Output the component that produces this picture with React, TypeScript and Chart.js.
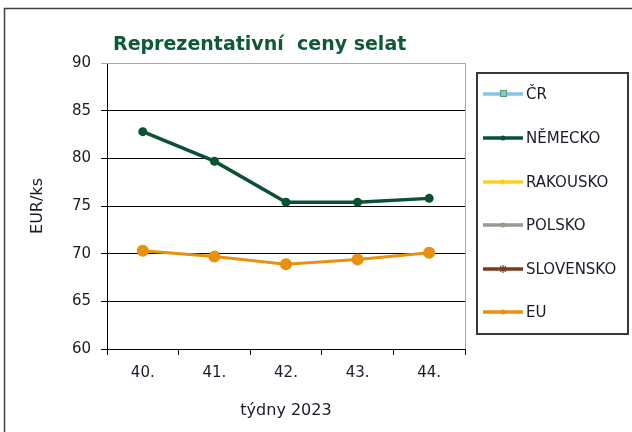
import React, { useEffect, useRef } from "react";
import { Chart, registerables } from "chart.js";

Chart.register(...registerables);

const weeks = ["40.", "41.", "42.", "43.", "44."];
const seriesNames = ["ČR", "NĚMECKO", "RAKOUSKO", "POLSKO", "SLOVENSKO", "EU"];
const cr: (number | null)[] = [null, null, null, null, null];
const nemecko: (number | null)[] = [82.8, 79.7, 75.4, 75.4, 75.8];
const rakousko: (number | null)[] = [null, null, null, null, null];
const polsko: (number | null)[] = [null, null, null, null, null];
const slovensko: (number | null)[] = [null, null, null, null, null];
const eu: (number | null)[] = [70.3, 69.7, 68.9, 69.4, 70.1];
const yMin = 60;
const yMax = 90;
const yStep = 5;
const titleText = "Reprezentativní  ceny selat";
const yTitle = "EUR/ks";
const xTitle = "týdny 2023";

const FONT = "'DejaVu Sans', Verdana, sans-serif";

const colors = ["#7ec8e6", "#0b5232", "#ffd21a", "#999991", "#7a3b1d", "#e8900f"];
const pointStyles = ["rect", "circle", "triangle", "circle", "star", "circle"];

const decorPlugin = {
  id: "decor",
  beforeDatasetsDraw(chart: any) {
    const { ctx, chartArea } = chart;
    ctx.save();
    ctx.strokeStyle = "#a8a8a8";
    ctx.lineWidth = 1;
    ctx.beginPath();
    ctx.moveTo(chartArea.left, chartArea.top + 0.5);
    ctx.lineTo(chartArea.right + 0.5, chartArea.top + 0.5);
    ctx.lineTo(chartArea.right + 0.5, chartArea.bottom);
    ctx.stroke();
    ctx.restore();
  },
  afterDraw(chart: any) {
    const { ctx } = chart;
    ctx.save();
    // outer frame
    ctx.strokeStyle = "#404040";
    ctx.lineWidth = 1.5;
    ctx.strokeRect(4.5, 8.5, 800, 800);
    // title
    ctx.fillStyle = "#0f5a36";
    ctx.font = `bold 19px ${FONT}`;
    ctx.textBaseline = "alphabetic";
    ctx.textAlign = "left";
    ctx.fillText(titleText, 113, 50);
    // legend box
    ctx.strokeStyle = "#383838";
    ctx.lineWidth = 2;
    ctx.strokeRect(477, 73, 151, 261);
    const ys = [94, 138, 182, 225, 269, 312];
    chart.data.datasets.forEach((ds: any, i: number) => {
      const y = ys[i];
      ctx.strokeStyle = ds.borderColor;
      ctx.lineWidth = 3.5;
      ctx.beginPath();
      ctx.moveTo(483, y);
      ctx.lineTo(523, y);
      ctx.stroke();
      const mx = 503;
      if (i === 0) {
        ctx.fillStyle = "#7ec8e6";
        ctx.strokeStyle = "#5a9a6a";
        ctx.lineWidth = 1;
        ctx.fillRect(500, y - 3, 6, 6);
        ctx.strokeRect(500.5, y - 3.5, 6, 6);
      } else if (i === 4) {
        ctx.strokeStyle = ds.borderColor;
        ctx.lineWidth = 1.2;
        ctx.beginPath();
        for (let k = 0; k < 4; k++) {
          const a = (k * Math.PI) / 4;
          ctx.moveTo(mx - 4 * Math.cos(a), y - 4 * Math.sin(a));
          ctx.lineTo(mx + 4 * Math.cos(a), y + 4 * Math.sin(a));
        }
        ctx.stroke();
      } else {
        ctx.fillStyle = ds.borderColor;
        ctx.beginPath();
        ctx.arc(mx, y, 2.5, 0, Math.PI * 2);
        ctx.fill();
      }
      ctx.fillStyle = "#1a1a2a";
      ctx.font = `15px ${FONT}`;
      ctx.textBaseline = "middle";
      ctx.textAlign = "left";
      ctx.fillText(ds.label, 526, y + 1);
    });
    ctx.restore();
  },
};

export default function App() {
  const ref = useRef<HTMLCanvasElement | null>(null);
  useEffect(() => {
    if (!ref.current) return;
    const allData = [cr, nemecko, rakousko, polsko, slovensko, eu];
    const chart = new Chart(ref.current, {
      type: "line",
      data: {
        labels: weeks,
        datasets: seriesNames.map((name, i) => ({
          label: name,
          data: allData[i],
          borderColor: colors[i],
          backgroundColor: colors[i],
          borderWidth: i === 1 ? 3.5 : 3,
          pointRadius: i === 5 ? 6 : 4.5,
          pointHoverRadius: i === 5 ? 6 : 4.5,
          pointStyle: pointStyles[i] as any,
          pointBorderWidth: 0,
          tension: 0,
          fill: false,
          spanGaps: false,
        })),
      },
      options: {
        responsive: false,
        animation: false,
        layout: { padding: { left: 0, top: 63, right: 167, bottom: 0 } },
        plugins: {
          legend: { display: false },
          title: { display: false },
          tooltip: { enabled: false },
        },
        scales: {
          x: {
            type: "category",
            offset: true,
            afterFit: (s: any) => {
              s.height = 83;
            },
            grid: {
              display: true,
              drawOnChartArea: false,
              drawTicks: true,
              tickLength: 6,
              color: "#000",
              offset: true,
            },
            border: { color: "#000", width: 1 },
            ticks: {
              color: "#1a1a2a",
              font: { family: FONT, size: 15 },
              padding: 9,
              maxRotation: 0,
            },
            title: {
              display: true,
              text: xTitle,
              color: "#1a1a2a",
              font: { family: FONT, size: 16 },
              padding: { top: 0, bottom: 12 },
            },
          },
          y: {
            min: yMin,
            max: yMax,
            afterFit: (s: any) => {
              s.width = 107;
            },
            ticks: {
              stepSize: yStep,
              color: "#1a1a2a",
              font: { family: FONT, size: 15 },
              padding: 10,
            },
            grid: {
              color: (c: any) => (c.tick && c.tick.value === yMax ? "#a8a8a8" : "#000"),
              lineWidth: 1,
              drawTicks: true,
              tickLength: 6,
            },
            border: { color: "#000", width: 1 },
            title: {
              display: true,
              text: yTitle,
              color: "#1a1a2a",
              font: { family: FONT, size: 16 },
              padding: { top: 28, bottom: 0 },
            },
          },
        },
      },
      plugins: [decorPlugin],
    });
    return () => chart.destroy();
  }, []);
  return (
    <div style={{ position: "absolute", left: 0, top: 0, width: 632, height: 432, background: "#fff" }}>
      <canvas ref={ref} width={632} height={432} style={{ display: "block" }} />
    </div>
  );
}
